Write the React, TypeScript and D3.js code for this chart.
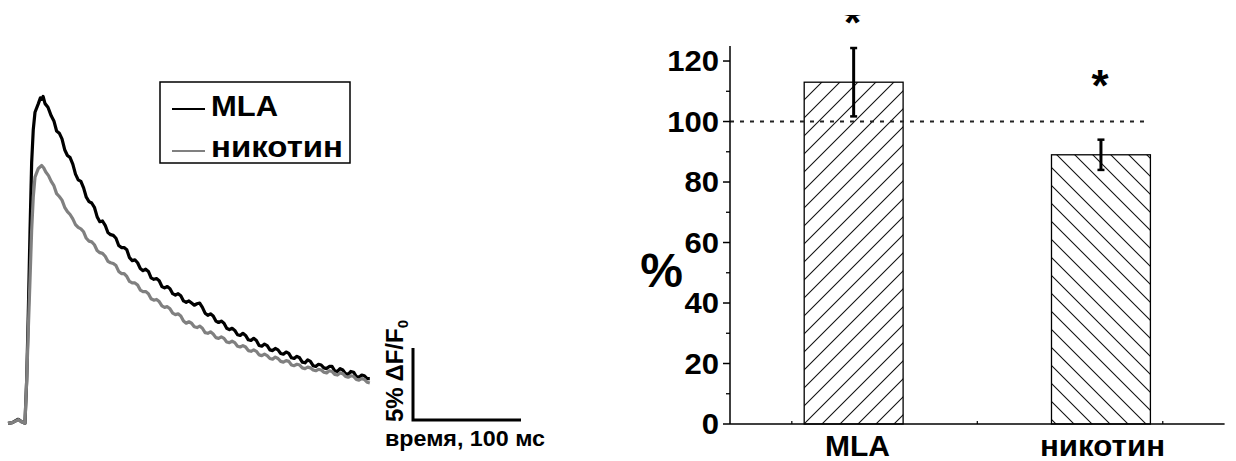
import React from "react";
import * as d3 from "d3";

// Fluorescence transients: [time, ms ; ΔF/F0, %]
const mlaTrace: [number, number][] = [
  [0, 0], [4, 0.05], [9.5, 0.28], [12.7, 0.1], [15.7, 0], [17.3, 3.0], [18.8, 7.7],
  [20.4, 13.4], [21.9, 18.1], [23.4, 20.4], [25, 21.6], [28.1, 22.2], [30, 22.6],
  [31.2, 22.5], [32.5, 22.7], [34.3, 22.2], [37, 21.95], [40, 21.35], [42.5, 21.0],
  [45, 20.3], [47.5, 20.15], [50, 19.75], [52.5, 19.0], [55, 18.6], [57.5, 18.45],
  [60, 18.0], [62.5, 17.3], [65, 16.9], [67.5, 16.8], [70, 16.35], [72.5, 15.7],
  [75, 15.4], [77.5, 15.3], [80, 15.0], [82.5, 14.35], [85, 14.0], [87.5, 14.05],
  [90, 13.75], [92.5, 13.25], [95, 13.1], [97.5, 13.05], [100, 12.85], [102.5, 12.35],
  [105, 12.2], [107.5, 12.2], [110, 12.05], [112.5, 11.5], [115, 11.3], [117.5, 11.35],
  [120, 11.15], [122.5, 10.75], [125, 10.6], [127.5, 10.7], [130, 10.55], [132.5, 10.1],
  [135, 10.0], [137.5, 10.05], [140, 9.9], [142.5, 9.5], [145, 9.4], [147.5, 9.5],
  [150, 9.35], [152.5, 9.0], [155, 8.9], [157.5, 9.0], [160, 8.85], [162.5, 8.5],
  [165, 8.4], [167.5, 8.5], [170, 8.35], [172.5, 8.2], [175, 8.3], [177.5, 8.35],
  [180, 8.05], [182.5, 7.65], [185, 7.5], [187.5, 7.6], [190, 7.45], [192.5, 7.1],
  [195, 7.0], [197.5, 7.1], [200, 6.95], [202.5, 6.6], [205, 6.5], [207.5, 6.6],
  [210, 6.45], [212.5, 6.15], [215, 6.1], [217.5, 6.25], [220, 6.1], [222.5, 5.8],
  [225, 5.75], [227.5, 5.9], [230, 5.75], [232.5, 5.4], [235, 5.35], [237.5, 5.5],
  [240, 5.4], [242.5, 5.1], [245, 5.05], [247.5, 5.2], [250, 5.1], [252.5, 4.85],
  [255, 4.8], [257.5, 4.95], [260, 4.85], [262.5, 4.55], [265, 4.5], [267.5, 4.65],
  [270, 4.55], [272.5, 4.25], [275, 4.2], [277.5, 4.4], [280, 4.3], [282.5, 4.0],
  [285, 3.95], [287.5, 4.1], [290, 4.05], [292.5, 3.85], [295, 3.8], [297.5, 3.95],
  [300, 3.95], [302.5, 3.65], [305, 3.6], [307.5, 3.8], [310, 3.7], [312.5, 3.45],
  [315, 3.4], [317.5, 3.6], [320, 3.55], [322.5, 3.25], [325, 3.2], [327.5, 3.35],
  [330, 3.3], [332.5, 3.1], [335, 3.1],
];

const nicotineTrace: [number, number][] = [
  [0, 0], [4, 0.05], [9.5, 0.25], [12.7, 0.1], [15.7, 0], [17.3, 3.0], [18.8, 6.5],
  [20.4, 10.0], [21.9, 13.4], [23.4, 15.7], [25, 17.1], [28.1, 17.7], [31.2, 17.9],
  [33, 17.75], [35, 17.45], [37.5, 17.2], [40, 16.8], [42.5, 16.5], [45, 15.95],
  [47.5, 15.75], [50, 15.5], [52.5, 15.0], [55, 14.7], [57.5, 14.5], [60, 14.2],
  [62.5, 13.8], [65, 13.6], [67.5, 13.5], [70, 13.3], [72.5, 12.85], [75, 12.65],
  [77.5, 12.6], [80, 12.4], [82.5, 12.0], [85, 11.85], [87.5, 11.8], [90, 11.6],
  [92.5, 11.25], [95, 11.15], [97.5, 11.1], [100, 10.95], [102.5, 10.55], [105, 10.4],
  [107.5, 10.4], [110, 10.2], [112.5, 9.85], [115, 9.75], [117.5, 9.75], [120, 9.6],
  [122.5, 9.25], [125, 9.15], [127.5, 9.15], [130, 9.0], [132.5, 8.65], [135, 8.55],
  [137.5, 8.6], [140, 8.45], [142.5, 8.15], [145, 8.05], [147.5, 8.1], [150, 7.95],
  [152.5, 7.65], [155, 7.55], [157.5, 7.6], [160, 7.45], [162.5, 7.1], [165, 6.95],
  [167.5, 7.05], [170, 6.95], [172.5, 6.7], [175, 6.65], [177.5, 6.75], [180, 6.6],
  [182.5, 6.3], [185, 6.25], [187.5, 6.35], [190, 6.2], [192.5, 5.95], [195, 5.9],
  [197.5, 6.0], [200, 5.9], [202.5, 5.65], [205, 5.6], [207.5, 5.7], [210, 5.6],
  [212.5, 5.35], [215, 5.3], [217.5, 5.4], [220, 5.3], [222.5, 5.05], [225, 5.0],
  [227.5, 5.1], [230, 5.0], [232.5, 4.75], [235, 4.7], [237.5, 4.8], [240, 4.7],
  [242.5, 4.5], [245, 4.45], [247.5, 4.6], [250, 4.5], [252.5, 4.3], [255, 4.25],
  [257.5, 4.35], [260, 4.3], [262.5, 4.05], [265, 4.0], [267.5, 4.1], [270, 4.05],
  [272.5, 3.85], [275, 3.8], [277.5, 3.9], [280, 3.85], [282.5, 3.7], [285, 3.65],
  [287.5, 3.75], [290, 3.7], [292.5, 3.55], [295, 3.5], [297.5, 3.65], [300, 3.6],
  [302.5, 3.4], [305, 3.35], [307.5, 3.5], [310, 3.45], [312.5, 3.25], [315, 3.2],
  [317.5, 3.3], [320, 3.25], [322.5, 3.05], [325, 3.0], [327.5, 3.1], [330, 3.05],
  [332.5, 2.85], [335, 2.8],
];

const legendLabels = ["MLA", "никотин"];
const traceColors = ["#000000", "#808080"];

// Scale bar amounts
const scaleBarAmplitude = 5; // % ΔF/F0
const scaleBarTime = 100; // ms

// Summary bars
const categories = ["MLA", "никотин"];
const barValues = [113, 89];
const barErrors = [11.3, 5];
const referenceLevel = 100;
const majorTicks = [0, 20, 40, 60, 80, 100, 120];
const minorTicks = [10, 30, 50, 70, 90, 110];
const significant = [true, true];

const FONT = "'Liberation Sans', Arial, Helvetica, sans-serif";
const STRETCH = 1.07; // labels are set slightly wide

export default function App() {
  const W = 1236;
  const H = 461;

  // Trace panel scales
  const tx = d3.scaleLinear().domain([0, 100]).range([8, 116]);
  const ty = d3.scaleLinear().domain([0, 5]).range([423.3, 351.3]);
  const line = d3
    .line<[number, number]>()
    .x((d) => tx(d[0]))
    .y((d) => ty(d[1]))
    .curve(d3.curveLinear);

  const barOrigin = { x: 413, y: 420 };
  const barLenY = ty(0) - ty(scaleBarAmplitude);
  const barLenX = tx(scaleBarTime) - tx(0);

  // Bar panel scales
  const x = d3.scaleLinear().domain([0.5, 2.5]).range([730, 1224.6]);
  const y = d3.scaleLinear().domain([0, 125]).range([424, 45.9]);
  const barW = x(1.4) - x(1);

  return (
    <svg
      width={W}
      height={H}
      viewBox={`0 0 ${W} ${H}`}
      style={{ position: "absolute", left: 0, top: 0, background: "#fff" }}
      fontFamily={FONT}
      fontWeight="bold"
    >
      <defs>
        <pattern id="hatchFwd" patternUnits="userSpaceOnUse" width={18} height={18} patternTransform="translate(4,0)">
          <path d="M-4.5,4.5 L4.5,-4.5 M0,18 L18,0 M13.5,22.5 L22.5,13.5" stroke="#111" strokeWidth={1.1} />
        </pattern>
        <pattern id="hatchBack" patternUnits="userSpaceOnUse" width={18} height={18} patternTransform="translate(2,0)">
          <path d="M-4.5,13.5 L4.5,22.5 M0,0 L18,18 M13.5,-4.5 L22.5,4.5" stroke="#111" strokeWidth={1.1} />
        </pattern>
        <clipPath id="topClip" clipPathUnits="userSpaceOnUse">
          <rect x={0} y={15} width={W} height={H} />
        </clipPath>
      </defs>

      {/* Traces */}
      <path d={line(mlaTrace) ?? ""} fill="none" stroke={traceColors[0]} strokeWidth={3.2} strokeLinejoin="round" />
      <path d={line(nicotineTrace) ?? ""} fill="none" stroke={traceColors[1]} strokeWidth={3.2} strokeLinejoin="round" />

      {/* Legend */}
      <rect x={160} y={82} width={190} height={81} fill="#fff" stroke="#000" strokeWidth={1.5} />
      {legendLabels.map((lab, i) => (
        <g key={lab}>
          <line x1={172} x2={205} y1={109 + i * 42} y2={109 + i * 42} stroke={traceColors[i]} strokeWidth={2} />
          <text
            x={211}
            y={116 + i * 41}
            fontSize={29}
            fill="#000"
            textLength={i === 0 ? 67 : 132}
            lengthAdjust="spacingAndGlyphs"
          >
            {lab}
          </text>
        </g>
      ))}

      {/* Scale bar */}
      <path
        d={`M${barOrigin.x},${barOrigin.y - barLenY} V${barOrigin.y} H${barOrigin.x + barLenX}`}
        fill="none"
        stroke="#000"
        strokeWidth={3}
      />
      <text transform={`translate(403,${barOrigin.y + 2}) rotate(-90)`} fontSize={24} fill="#000">
        5% ΔF/F<tspan fontSize={15} dy={5}>0</tspan>
      </text>
      <text x={385} y={446} fontSize={22} fill="#000" textLength={160} lengthAdjust="spacingAndGlyphs">
        время, 100 мс
      </text>

      {/* Bars */}
      {categories.map((c, i) => (
        <rect
          key={c}
          x={x(i + 1) - barW / 2}
          y={y(barValues[i])}
          width={barW}
          height={y(0) - y(barValues[i])}
          fill={`url(#${i === 0 ? "hatchFwd" : "hatchBack"})`}
          stroke="#000"
          strokeWidth={1.3}
        />
      ))}

      {/* Reference level */}
      <line
        x1={x(0.5)}
        x2={x(2) + barW / 2 - 2}
        y1={y(referenceLevel)}
        y2={y(referenceLevel)}
        stroke="#222"
        strokeWidth={2}
        strokeDasharray="4 6"
      />

      {/* Error bars */}
      {categories.map((c, i) => {
        const cx = x(i + 1);
        const top = y(barValues[i] + barErrors[i]);
        const bot = y(barValues[i] - barErrors[i]);
        return (
          <g key={c} stroke="#000">
            <line x1={cx} x2={cx} y1={top} y2={bot} strokeWidth={3} />
            <line x1={cx - 3.5} x2={cx + 3.5} y1={top} y2={top} strokeWidth={2.5} />
            <line x1={cx - 3.5} x2={cx + 3.5} y1={bot} y2={bot} strokeWidth={2.5} />
          </g>
        );
      })}

      {/* Significance marks */}
      {categories.map((c, i) =>
        significant[i] ? (
          <g key={c} clipPath={i === 0 ? "url(#topClip)" : undefined}>
            <text x={x(i + 1) - 1} y={i === 0 ? 38 : 101.3} fontSize={44} textAnchor="middle" fill="#000">
              *
            </text>
          </g>
        ) : null
      )}

      {/* Y axis */}
      <line x1={730} x2={730} y1={y(125)} y2={y(0)} stroke="#000" strokeWidth={1.5} />
      {majorTicks.map((t) => (
        <g key={t}>
          <line x1={723} x2={730} y1={y(t)} y2={y(t)} stroke="#000" strokeWidth={1.5} />
          <text
            transform={`translate(719,${y(t)}) scale(${STRETCH},1)`}
            dy="0.35em"
            fontSize={29}
            textAnchor="end"
            fill="#000"
          >
            {t}
          </text>
        </g>
      ))}
      {minorTicks.map((t) => (
        <line key={t} x1={726} x2={730} y1={y(t)} y2={y(t)} stroke="#000" strokeWidth={1.3} />
      ))}
      <text x={661.5} y={287} fontSize={48} textAnchor="middle" fill="#000">
        %
      </text>

      {/* X axis */}
      <line x1={x(0.5)} x2={x(2.5)} y1={y(0)} y2={y(0)} stroke="#000" strokeWidth={1.5} />
      {[0.75, 1.5, 2.25].map((t) => (
        <line key={t} x1={x(t)} x2={x(t)} y1={y(0)} y2={y(0) - 3} stroke="#000" strokeWidth={1.2} />
      ))}
      {categories.map((c, i) => (
        <text
          key={c}
          x={i === 0 ? 825 : 1040}
          y={456}
          fontSize={29}
          fill="#000"
          textLength={i === 0 ? 65 : 125}
          lengthAdjust="spacingAndGlyphs"
        >
          {c}
        </text>
      ))}
    </svg>
  );
}
